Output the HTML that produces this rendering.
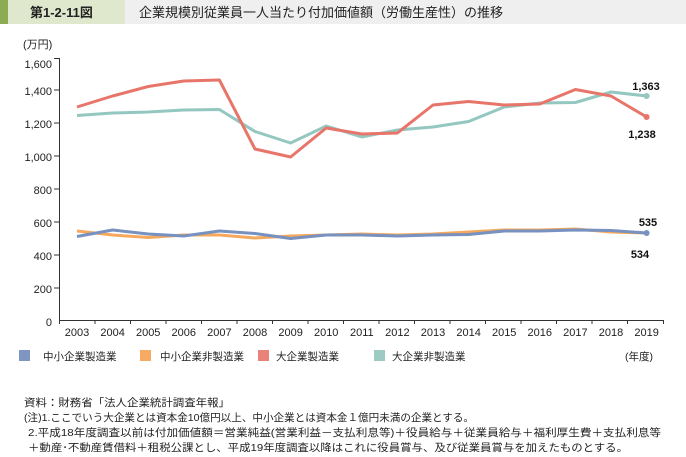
<!DOCTYPE html>
<html><head><meta charset="utf-8"><style>
body{margin:0;background:#fff;}
svg text{font-family:"Liberation Sans","Noto Sans CJK JP",sans-serif;}
</style></head><body>
<svg width="686" height="452" xmlns="http://www.w3.org/2000/svg">
<rect x="0" y="0" width="686" height="24" fill="#efefef"/>
<rect x="0" y="0" width="125" height="24" fill="#dfe7cc"/>
<rect x="0" y="0" width="8" height="24" fill="#8daa55"/>
<text x="30" y="17" font-size="13" font-weight="bold" fill="#222">第1-2-11図</text>
<text x="139" y="17" font-size="13" fill="#222">企業規模別従業員一人当たり付加価値額（労働生産性）の推移</text>
<text x="23" y="48" font-size="11" fill="#222">(万円)</text>
<g font-size="11" fill="#222" text-anchor="end">
<text x="52" y="68">1,600</text><text x="52" y="95">1,400</text><text x="52" y="128">1,200</text>
<text x="52" y="161">1,000</text><text x="52" y="194">800</text><text x="52" y="227">600</text>
<text x="52" y="260">400</text><text x="52" y="293">200</text><text x="52" y="326">0</text>
</g>
<g stroke="#333" stroke-width="1" fill="none">
<path d="M54,58.5H59.5V320.5H664"/>
<path d="M54,90H59M54,123H59M54,156H59M54,189H59M54,222H59M54,255H59M54,288H59"/>
<path d="M59.5,320V324M95,320V324M130.5,320V324M166,320V324M201.5,320V324M237,320V324M272.5,320V324M308,320V324M343.5,320V324M379,320V324M414.5,320V324M450,320V324M485.5,320V324M521,320V324M556.5,320V324M592,320V324M627.5,320V324M663.5,320V324"/>
</g>
<g font-size="11" fill="#222" text-anchor="middle">
<text x="77" y="336">2003</text><text x="112.6" y="336">2004</text><text x="148.2" y="336">2005</text><text x="183.8" y="336">2006</text><text x="219.4" y="336">2007</text><text x="255" y="336">2008</text><text x="290.6" y="336">2009</text><text x="326.2" y="336">2010</text><text x="361.8" y="336">2011</text><text x="397.4" y="336">2012</text><text x="433" y="336">2013</text><text x="468.6" y="336">2014</text><text x="504.2" y="336">2015</text><text x="539.8" y="336">2016</text><text x="575.4" y="336">2017</text><text x="611" y="336">2018</text><text x="646.6" y="336">2019</text>
</g>
<g fill="none" stroke-width="3" stroke-linejoin="round">
<polyline stroke="#93c7c0" points="77,115.5 112.6,113 148.2,112 183.8,110 219.4,109.5 255,131.5 290.6,143 326.2,126 361.8,137 397.4,130 433,127 468.6,121.5 504.2,107 539.8,103 575.4,102.5 611,92 646.6,96"/>
<polyline stroke="#e8756a" points="77,107 112.6,96 148.2,86.5 183.8,81 219.4,80 255,149 290.6,157 326.2,128 361.8,134 397.4,133 433,105 468.6,101.5 504.2,105 539.8,104 575.4,89.5 611,96 646.6,117"/>
<polyline stroke="#f6a85c" points="77,231 112.6,235 148.2,237.5 183.8,235 219.4,235 255,238 290.6,236 326.2,235 361.8,234 397.4,235 433,234 468.6,232 504.2,230 539.8,230 575.4,229 611,232 646.6,233"/>
<polyline stroke="#7791c0" points="77,236.5 112.6,230 148.2,234 183.8,236 219.4,231 255,233.5 290.6,238.5 326.2,235 361.8,235 397.4,236 433,235 468.6,234.5 504.2,231 539.8,231 575.4,230 611,230.5 646.6,233"/>
</g>
<circle cx="646.6" cy="96" r="3" fill="#93c7c0"/>
<circle cx="646.6" cy="117" r="3" fill="#e8756a"/>
<circle cx="646.6" cy="233" r="3" fill="#7791c0"/>
<g font-size="11" font-weight="bold" fill="#111" text-anchor="middle">
<text x="646" y="90">1,363</text><text x="642" y="138">1,238</text>
<text x="648" y="226">535</text><text x="640" y="258">534</text>
</g>
<rect x="19" y="350" width="11" height="11" fill="#7f97c0"/>
<rect x="140" y="350" width="11" height="11" fill="#f6aa62"/>
<rect x="258" y="350" width="11" height="11" fill="#e9837a"/>
<rect x="374" y="350" width="11" height="11" fill="#9ecac4"/>
<g font-size="10.5" fill="#222">
<text x="43" y="360">中小企業製造業</text>
<text x="160" y="360">中小企業非製造業</text>
<text x="276" y="360">大企業製造業</text>
<text x="392" y="360">大企業非製造業</text>
<text x="625" y="360">(年度)</text>
</g>
<g font-size="10.5" fill="#222">
<text x="24" y="406" textLength="206" lengthAdjust="spacingAndGlyphs">資料：財務省「法人企業統計調査年報」</text>
<text x="24" y="421" textLength="450" lengthAdjust="spacingAndGlyphs">(注)1.ここでいう大企業とは資本金10億円以上、中小企業とは資本金１億円未満の企業とする。</text>
<text x="28" y="436" textLength="633" lengthAdjust="spacingAndGlyphs">2.平成18年度調査以前は付加価値額＝営業純益(営業利益－支払利息等)＋役員給与＋従業員給与＋福利厚生費＋支払利息等</text>
<text x="28" y="451" textLength="600" lengthAdjust="spacingAndGlyphs">＋動産･不動産賃借料＋租税公課とし、平成19年度調査以降はこれに役員賞与、及び従業員賞与を加えたものとする。</text>
</g>
</svg>
</body></html>
